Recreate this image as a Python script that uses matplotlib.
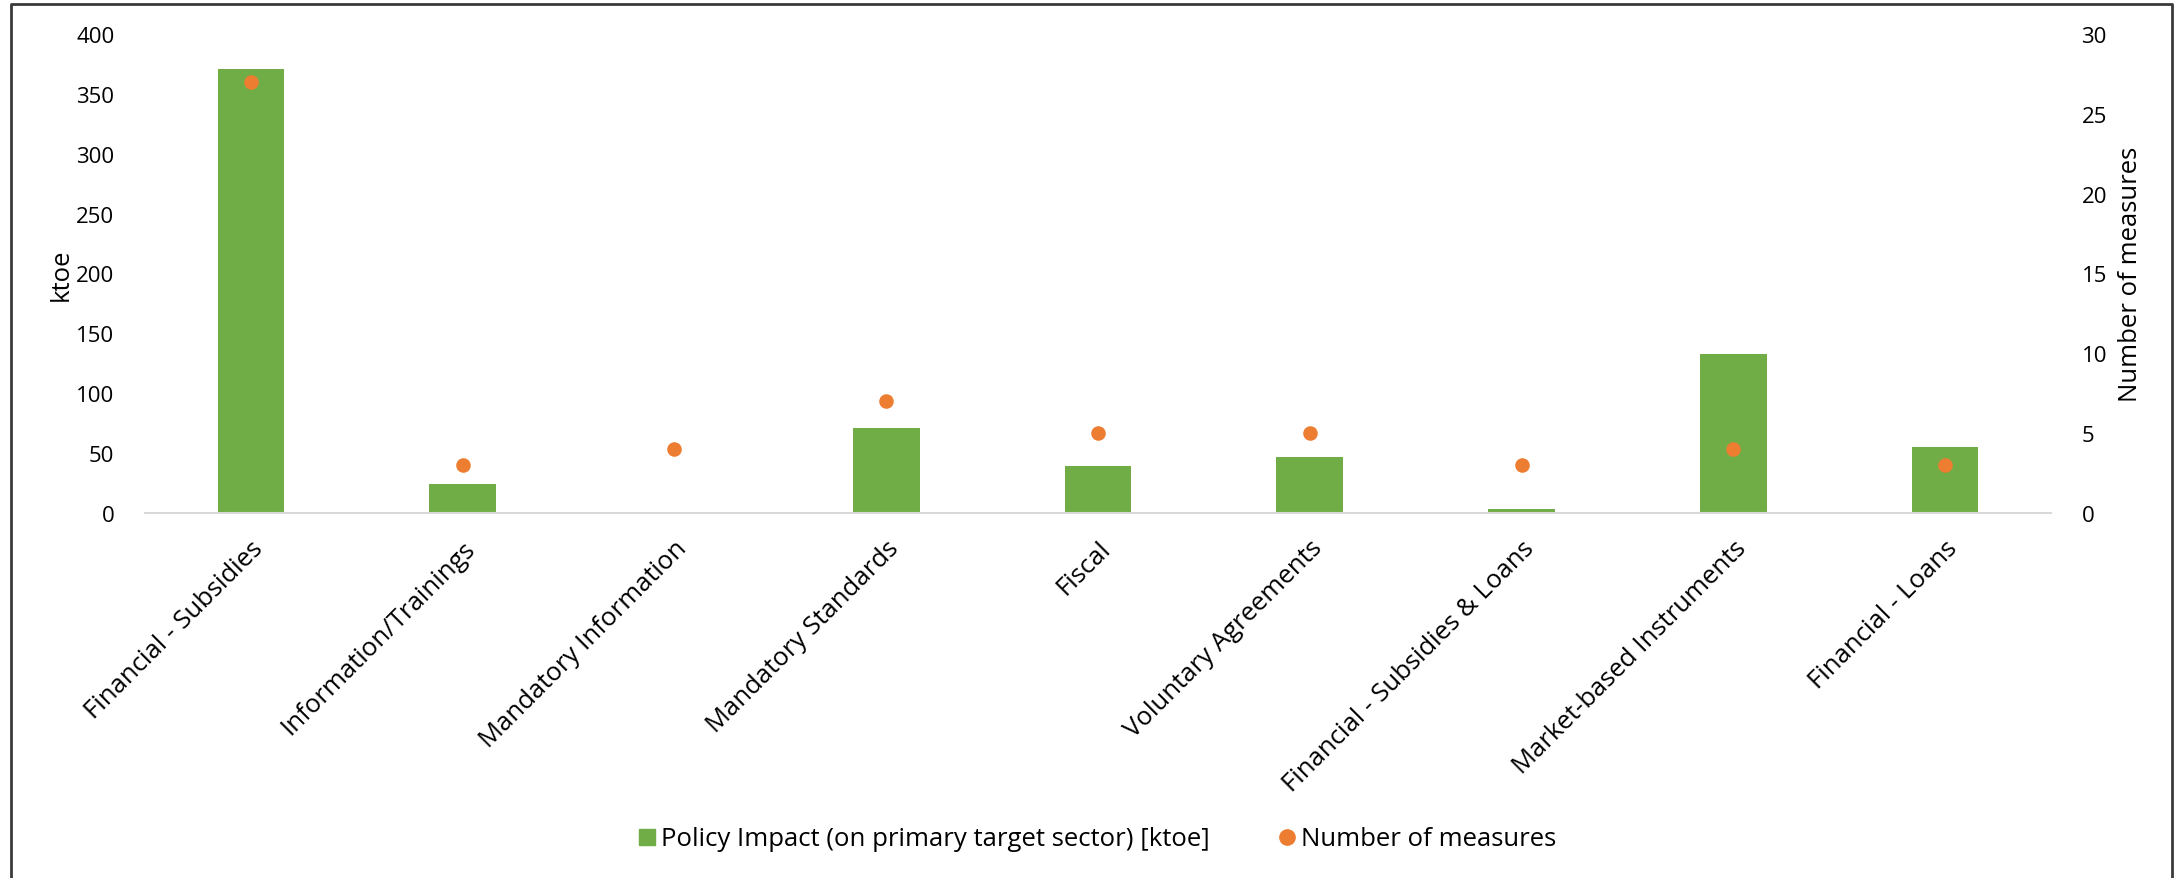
import matplotlib.pyplot as plt
from matplotlib.lines import Line2D
import numpy as np

plt.rcParams["font.family"] = ["Open Sans", "DejaVu Sans"]

categories = ["Financial - Subsidies", "Information/Trainings", "Mandatory Information",
              "Mandatory Standards", "Fiscal", "Voluntary Agreements",
              "Financial - Subsidies & Loans", "Market-based Instruments", "Financial - Loans"]
impact_ktoe = [371, 24, 0, 71, 39, 47, 3, 133, 55]
n_measures = [27, 3, 4, 7, 5, 5, 3, 4, 3]

GREEN = "#70AD47"
ORANGE = "#ED7D31"
FS_NUM = 16
FS = 18.5

fig = plt.figure(figsize=(21.76, 8.79), dpi=100)
ax = fig.add_axes([145 / 2176, 1 - 514 / 879, (2051 - 145) / 2176, (514 - 35) / 879])
ax2 = ax.twinx()

x = np.arange(len(categories))
ax.bar(x, impact_ktoe, width=0.315, color=GREEN, zorder=2)
ax2.scatter(x, n_measures, s=110, color=ORANGE, zorder=3, linewidths=0)

ax.set_xlim(-0.5, len(categories) - 0.5)
ax.set_ylim(0, 400)
ax.set_yticks(range(0, 401, 50))
ax2.set_ylim(0, 30)
ax2.set_yticks(range(0, 31, 5))

for a in (ax, ax2):
    for s in ("top", "left", "right"):
        a.spines[s].set_visible(False)
    a.spines["bottom"].set_color("#D9D9D9")
    a.spines["bottom"].set_linewidth(1.5)
    a.tick_params(axis="both", length=0, labelsize=FS_NUM)
ax2.spines["bottom"].set_visible(False)

ax.set_xticks(x)
ax.set_xticklabels(categories, rotation=45, ha="right", va="top", rotation_mode="anchor",
                   fontsize=FS)
ax.tick_params(axis="x", pad=16)
ax.tick_params(axis="y", pad=22)
ax2.tick_params(axis="y", pad=22)

ax.set_ylabel("ktoe", fontsize=FS, labelpad=2)
ax2.set_ylabel("Number of measures", fontsize=FS, labelpad=8)

handles = [Line2D([], [], marker="s", linestyle="none", color=GREEN, markersize=12),
           Line2D([], [], marker="o", linestyle="none", color=ORANGE, markersize=11)]
fig.legend(handles, ["Policy Impact (on primary target sector) [ktoe]", "Number of measures"],
           loc="center", bbox_to_anchor=(1098 / 2176, 1 - 840 / 879), ncol=2, frameon=False,
           fontsize=FS, handlelength=0.6, handletextpad=0.25, columnspacing=2.7)

# frame around the figure (left, top, right edges visible)
fig.add_artist(Line2D([11 / 2176, 11 / 2176, 2172 / 2176, 2172 / 2176],
                      [0, 1 - 5 / 879, 1 - 5 / 879, 0],
                      transform=fig.transFigure, color="#3a3a3a", linewidth=2))

fig.savefig("out.png", dpi=100)
